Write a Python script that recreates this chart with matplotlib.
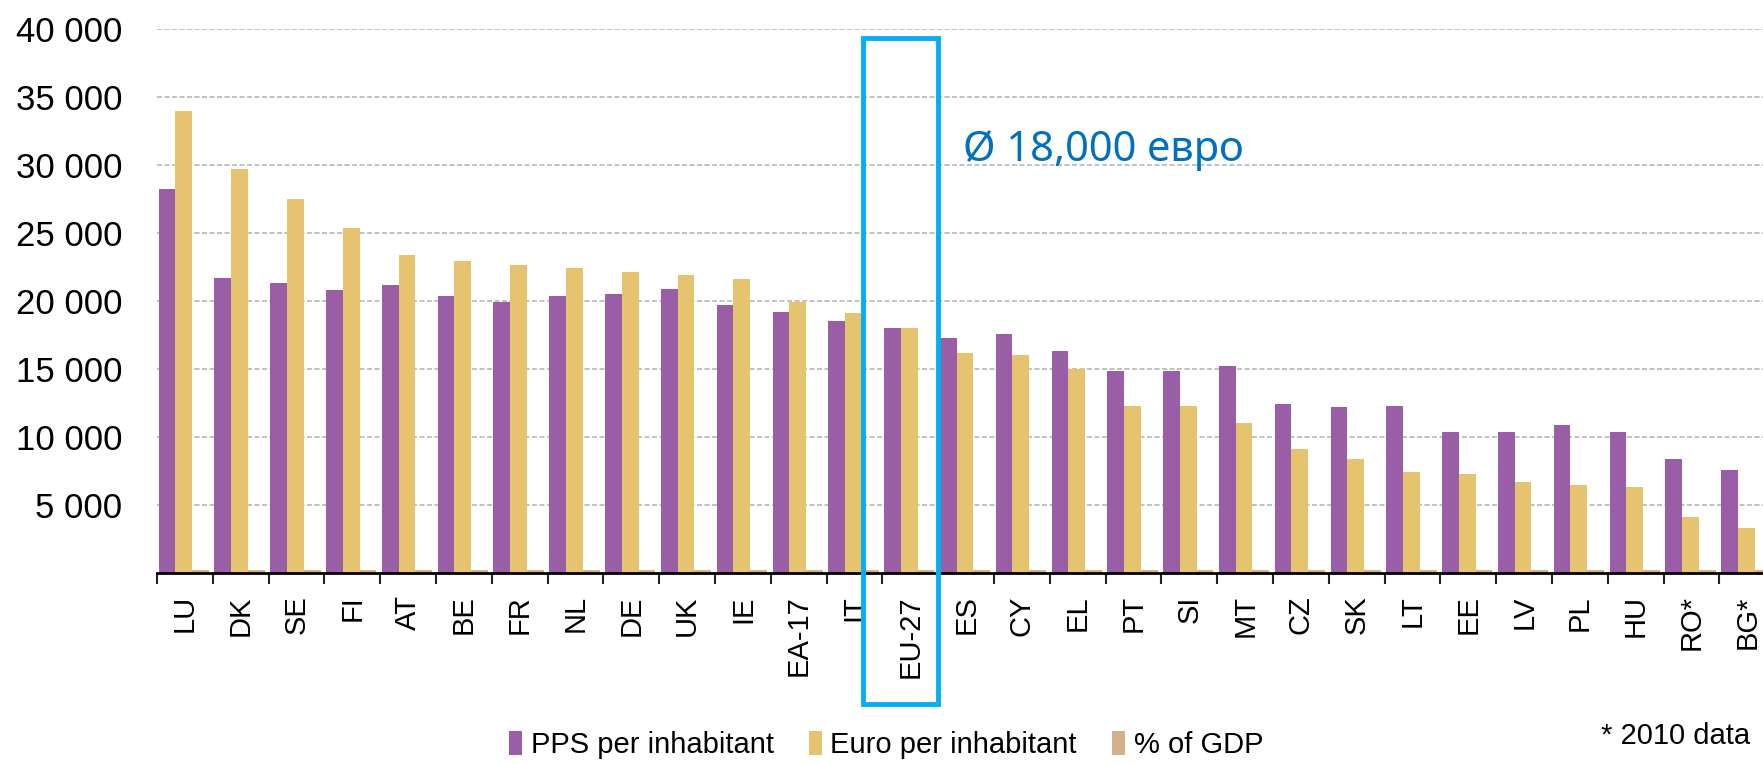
import matplotlib
matplotlib.use("Agg")
import matplotlib.pyplot as plt
import matplotlib.transforms as mtransforms
from matplotlib.patches import Rectangle
from matplotlib.ticker import FixedLocator, FuncFormatter
import numpy as np

countries = ["LU", "DK", "SE", "FI", "AT", "BE", "FR", "NL", "DE", "UK", "IE",
             "EA-17", "IT", "EU-27", "ES", "CY", "EL", "PT", "SI", "MT", "CZ",
             "SK", "LT", "EE", "LV", "PL", "HU", "RO*", "BG*"]
pps = [28200, 21700, 21350, 20800, 21150, 20400, 19900, 20400, 20500, 20900, 19700,
       19200, 18500, 18000, 17300, 17600, 16300, 14850, 14850, 15200, 12400,
       12200, 12300, 10350, 10350, 10900, 10400, 8350, 7600]
euro = [34000, 29700, 27500, 25400, 23400, 22950, 22650, 22400, 22150, 21900, 21650,
        19900, 19100, 18000, 16150, 16000, 15000, 12250, 12250, 11000, 9100,
        8350, 7450, 7250, 6700, 6500, 6350, 4100, 3300]
# % of GDP is drawn on the same axis, so it only shows as a thin strip
gdp = [200] * 29
yticks = [5000, 10000, 15000, 20000, 25000, 30000, 35000, 40000]

PURPLE = "#995ea6"
YELLOW = "#e5c36f"
BROWN = "#c0915a"
BLUE_BOX = "#00b0f0"
BLUE_TEXT = "#0070c0"

plt.rcParams["font.family"] = ["Liberation Sans", "DejaVu Sans"]

fig = plt.figure(figsize=(17.63, 7.64), dpi=100)
ax = fig.add_axes([157 / 1763, 1 - 573 / 764, 1 - 157 / 1763, (573 - 29) / 764])

x = np.arange(len(countries))
w = 0.3
b1 = ax.bar(x - 0.32, pps, w, color=PURPLE, label="PPS per inhabitant", zorder=3)
b2 = ax.bar(x - 0.02, euro, w, color=YELLOW, label="Euro per inhabitant", zorder=3)
b3 = ax.bar(x + 0.28, gdp, w, color=BROWN, alpha=0.7, label="% of GDP", zorder=3)

ax.set_xlim(-0.5, 28.28)
ax.set_ylim(0, 40000)

# y axis
ax.yaxis.set_major_locator(FixedLocator(yticks))
ax.yaxis.set_major_formatter(FuncFormatter(lambda v, p: f"{int(v):,}".replace(",", " ")))
ax.tick_params(axis="y", length=0, pad=25, labelsize=25)
ax.grid(axis="y", color="#b8b8b8", linestyle=(0, (3, 1.5)), linewidth=1.2, zorder=0)

# x axis: labels at centres, ticks at category boundaries
ax.set_xticks(x)
ax.set_xticklabels(countries, rotation=90, fontsize=21, va="top")
ax.tick_params(axis="x", which="major", length=0, pad=16)
ax.xaxis.set_minor_locator(FixedLocator(np.arange(-0.5, 29, 1)))
ax.tick_params(axis="x", which="minor", length=8, width=1.5, color="#222222")

for s in ["top", "right", "left"]:
    ax.spines[s].set_visible(False)
ax.spines["bottom"].set_linewidth(2)
ax.spines["bottom"].set_zorder(4)

# highlight box around EU-27
trans = mtransforms.blended_transform_factory(ax.transData, fig.transFigure)
box = Rectangle((12.15, 1 - 704 / 764), 1.35, (704 - 38) / 764, transform=trans,
                fill=False, edgecolor=BLUE_BOX, linewidth=3.5, clip_on=False, zorder=5)
fig.add_artist(box)
ax.text(13.94, 31100, "Ø 18,000 евро", color=BLUE_TEXT, fontsize=30,
        family=["Noto Sans", "DejaVu Sans"], va="center", ha="left")

fig.legend(handles=[b1, b2, b3], loc="center", bbox_to_anchor=(886 / 1763, 19 / 764),
           ncol=3, frameon=False, fontsize=21, handlelength=0.45, handleheight=0.9,
           handletextpad=0.3, columnspacing=1.2)
fig.text(1750 / 1763, 1 - 736 / 764, "* 2010 data", ha="right", va="center", fontsize=21)

fig.savefig("out.png", dpi=100)
